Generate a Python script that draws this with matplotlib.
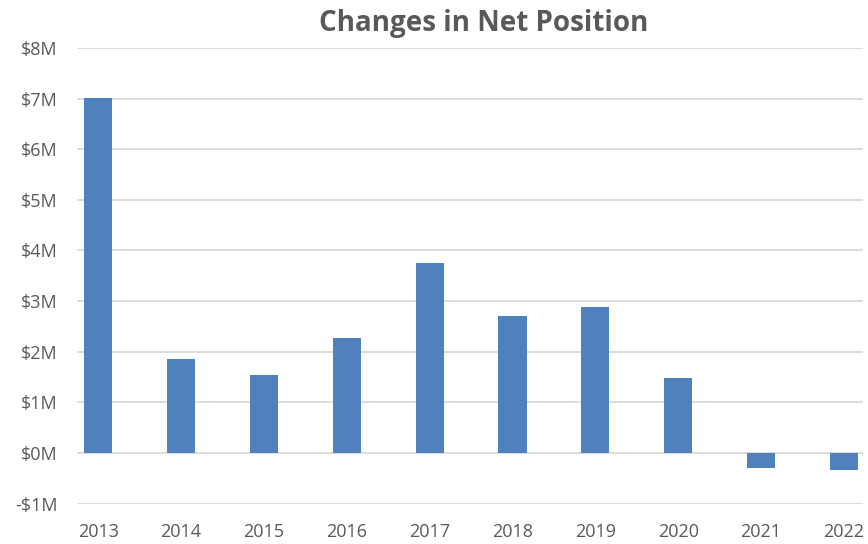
import matplotlib.pyplot as plt
from matplotlib.ticker import FuncFormatter

years = ['2013', '2014', '2015', '2016', '2017', '2018', '2019', '2020', '2021', '2022']
net_change = [7.01, 1.85, 1.54, 2.27, 3.75, 2.71, 2.89, 1.48, -0.30, -0.33]  # $M

plt.rcParams['font.family'] = ['Open Sans', 'DejaVu Sans']

fig = plt.figure(figsize=(8.68, 5.44), dpi=100)
ax = fig.add_axes([77 / 868, 1 - 503.5 / 544, (863 - 77) / 868, (503.5 - 48) / 544])

x = range(len(years))
ax.bar(x, net_change, width=0.34, color='#4F81BD', zorder=3)

ax.set_xlim(-0.255, 9.23)
ax.set_ylim(-1, 8)
ax.set_yticks(range(-1, 9))
ax.yaxis.set_major_formatter(FuncFormatter(lambda v, p: f'-${abs(v):.0f}M' if v < 0 else f'${v:.0f}M'))
ax.set_xticks(list(x))
ax.set_xticklabels(years)

ax.grid(axis='y', color='#D9D9D9', linewidth=1.3, zorder=0)
for s in ax.spines.values():
    s.set_visible(False)
ax.tick_params(axis='both', length=0, labelsize=13, labelcolor='#595959')
ax.tick_params(axis='y', pad=14)
ax.tick_params(axis='x', pad=14)

fig.text(484 / 868, 1 - 24 / 544, 'Changes in Net Position', ha='center', va='center',
         fontsize=20, fontweight='bold', color='#595959', family=['Open Sans', 'DejaVu Sans'])

fig.savefig('out.png', dpi=100)
